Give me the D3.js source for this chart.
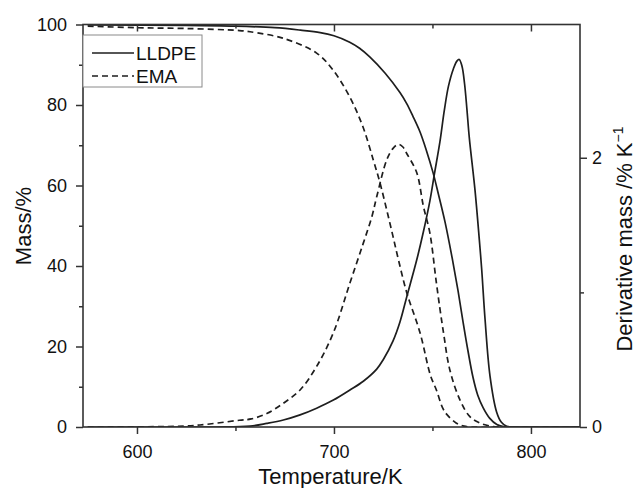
<!DOCTYPE html>
<html>
<head>
<meta charset="utf-8">
<script src="https://cdn.jsdelivr.net/npm/d3@7"></script>
<style>
  body { margin: 0; background: #fff; }
  svg { display: block; }
  text { font-family: "Liberation Sans", Arial, Helvetica, sans-serif; fill: #111; }
</style>
</head>
<body>
<svg id="chart" width="638" height="488"></svg>
<script>
// ---------- data ----------
const seriesNames = ["LLDPE", "EMA"];

// LLDPE mass curve (Temperature K, Mass %)
const lldpeMassT = [575, 625, 650, 670, 683, 693, 700, 708, 713, 718.3, 726, 733.5, 737, 740, 743.7, 747, 750.3, 753, 756.4, 760, 763, 765.5, 768, 770.6, 773, 775.7, 779, 782.7, 786, 789, 825];
const lldpeMass  = [99.9, 99.8, 99.6, 99.2, 98.6, 98.0, 97.2, 95.6, 94.1, 91.9, 87.9, 83.1, 80.3, 77.3, 73.3, 68.6, 63.2, 57.9, 50.9, 42, 33.8, 26.2, 19, 12.3, 7.9, 4.8, 2.2, 0.6, 0.1, 0, 0];

// LLDPE derivative curve (Temperature K, %/K)
const lldpeDerivT = [575, 640, 657.4, 665.9, 674.3, 682.8, 691.2, 699.7, 708.1, 714.9, 721.7, 725, 730, 733.5, 737, 742, 745.4, 748.7, 751, 753.8, 756, 758.1, 760.6, 762.5, 763.6, 765, 766.3, 767.5, 768.7, 771.6, 773.8, 775, 776.7, 779.2, 782.6, 785, 787.7, 792, 825];
const lldpeDeriv  = [0, 0, 0.007, 0.027, 0.052, 0.09, 0.14, 0.2, 0.275, 0.34, 0.43, 0.5, 0.64, 0.78, 0.97, 1.24, 1.45, 1.68, 1.88, 2.12, 2.35, 2.53, 2.66, 2.72, 2.73, 2.68, 2.55, 2.36, 2.15, 1.76, 1.39, 1.17, 0.8, 0.38, 0.11, 0.035, 0.005, 0, 0];

// EMA mass curve
const emaMassT = [575, 600, 625, 652, 657.4, 674, 691.2, 699.5, 708, 714.7, 720, 723.4, 726.8, 730, 733, 737, 743.7, 749, 752, 755.3, 757.5, 762, 766, 770, 825];
const emaMass  = [99.6, 99.2, 99.0, 98.5, 98.2, 96.6, 92.9, 88.7, 82, 74.6, 66.3, 60.6, 53.9, 47.3, 41, 33.3, 23.4, 12.8, 9.2, 4.6, 3.0, 1.0, 0.2, 0, 0];

// EMA derivative curve
const emaDerivT = [575, 620, 632, 652, 658, 665.9, 674.3, 682.8, 691.2, 699.7, 708.1, 714.9, 719.2, 721.7, 726.8, 730, 732.7, 735, 737, 742, 745.4, 748.7, 752, 755.5, 758.9, 764, 769, 774, 780, 785, 825];
const emaDeriv  = [0, 0.005, 0.015, 0.05, 0.06, 0.1, 0.176, 0.275, 0.45, 0.7, 1.07, 1.366, 1.56, 1.71, 1.985, 2.07, 2.1, 2.08, 2.03, 1.89, 1.64, 1.44, 1.07, 0.71, 0.42, 0.2, 0.077, 0.03, 0.005, 0, 0];

// axes / ticks
const xDomain = [572.6, 824.9];
const massDomain = [0, 100];
const derivDomain = [0, 2.99];
const xMajorTicks = [600, 700, 800];
const xMinorTicks = [650, 750];
const massMajorTicks = [0, 20, 40, 60, 80, 100];
const massMinorTicks = [10, 30, 50, 70, 90];
const derivMajorTicks = [0, 2];
const derivMinorTicks = [1];
const xTitle = "Temperature/K";
const massTitle = "Mass/%";
const derivTitle = "Derivative mass /% K";
const derivTitleSup = "\u22121";

// ---------- layout ----------
const W = 638, H = 488;
const m = { left: 83, right: 58, top: 24.5, bottom: 61 };
const iw = W - m.left - m.right, ih = H - m.top - m.bottom;
const axisColor = "#333";
const lineColor = "#1e1e1e";

const svg = d3.select("#chart");
const g = svg.append("g").attr("transform", `translate(${m.left},${m.top})`);

const x = d3.scaleLinear().domain(xDomain).range([0, iw]);
const yM = d3.scaleLinear().domain(massDomain).range([ih, 0]);
const yD = d3.scaleLinear().domain(derivDomain).range([ih, 0]);

const zip = (a, b) => a.map((t, i) => [t, b[i]]);
const curve = d3.curveCatmullRom.alpha(0.5);
const lineM = d3.line().x(d => x(d[0])).y(d => yM(d[1])).curve(curve);
const lineD = d3.line().x(d => x(d[0])).y(d => yD(d[1])).curve(curve);

g.append("clipPath").attr("id", "clip").append("rect").attr("width", iw).attr("height", ih);
const plot = g.append("g").attr("clip-path", "url(#clip)");

const curves = [
  { data: zip(emaMassT, emaMass), gen: lineM, dash: "6,4" },
  { data: zip(emaDerivT, emaDeriv), gen: lineD, dash: "6,4" },
  { data: zip(lldpeMassT, lldpeMass), gen: lineM, dash: null },
  { data: zip(lldpeDerivT, lldpeDeriv), gen: lineD, dash: null }
];
curves.forEach(c => {
  plot.append("path")
    .attr("d", c.gen(c.data))
    .attr("fill", "none")
    .attr("stroke", lineColor)
    .attr("stroke-width", 1.7)
    .attr("stroke-dasharray", c.dash);
});

// ---------- axes ----------
function styleAxis(sel) {
  sel.select(".domain").remove();
  sel.selectAll(".tick line").attr("stroke", axisColor).attr("stroke-width", 1.5);
  sel.selectAll(".tick text").attr("font-size", 18).attr("fill", "#111")
     .attr("font-family", '"Liberation Sans", Arial, sans-serif');
}
const noLabel = () => "";

// bottom
g.append("g").attr("transform", `translate(0,${ih})`)
  .call(d3.axisBottom(x).tickValues(xMajorTicks).tickSize(7).tickPadding(11).tickFormat(d3.format("d")))
  .call(styleAxis);
g.append("g").attr("transform", `translate(0,${ih})`)
  .call(d3.axisBottom(x).tickValues(xMinorTicks).tickSize(4).tickFormat(noLabel))
  .call(styleAxis);
// top (inward)
g.append("g")
  .call(d3.axisBottom(x).tickValues(xMajorTicks).tickSize(7).tickFormat(noLabel))
  .call(styleAxis);
g.append("g")
  .call(d3.axisBottom(x).tickValues(xMinorTicks).tickSize(4).tickFormat(noLabel))
  .call(styleAxis);
// left
g.append("g")
  .call(d3.axisLeft(yM).tickValues(massMajorTicks).tickSize(7).tickPadding(9).tickFormat(d3.format("d")))
  .call(styleAxis);
g.append("g")
  .call(d3.axisLeft(yM).tickValues(massMinorTicks).tickSize(4).tickFormat(noLabel))
  .call(styleAxis);
// right
g.append("g").attr("transform", `translate(${iw},0)`)
  .call(d3.axisRight(yD).tickValues(derivMajorTicks).tickSize(7).tickPadding(5).tickFormat(d3.format("d")))
  .call(styleAxis);
g.append("g").attr("transform", `translate(${iw},0)`)
  .call(d3.axisRight(yD).tickValues(derivMinorTicks).tickSize(4).tickFormat(noLabel))
  .call(styleAxis);

// frame
g.append("rect").attr("width", iw).attr("height", ih)
  .attr("fill", "none").attr("stroke", axisColor).attr("stroke-width", 1.6);

// ---------- legend ----------
const lg = svg.append("g");
lg.append("rect").attr("x", 83).attr("y", 35).attr("width", 119).attr("height", 52)
  .attr("fill", "#fff").attr("stroke", "#8a8a8a").attr("stroke-width", 1);
[{ name: seriesNames[0], dash: null, y: 53 }, { name: seriesNames[1], dash: "6,4", y: 76 }].forEach(it => {
  lg.append("line").attr("x1", 92).attr("x2", 134).attr("y1", it.y).attr("y2", it.y)
    .attr("stroke", lineColor).attr("stroke-width", 1.7).attr("stroke-dasharray", it.dash);
  lg.append("text").attr("x", 136).attr("y", it.y + 7).attr("font-size", 19).text(it.name);
});

// ---------- titles ----------
svg.append("text").attr("x", 330.5).attr("y", 484).attr("text-anchor", "middle")
  .attr("font-size", 22).text(xTitle);
svg.append("text").attr("transform", "translate(31,226) rotate(-90)").attr("text-anchor", "middle")
  .attr("font-size", 22).text(massTitle);
const rt = svg.append("text").attr("transform", "translate(632,239) rotate(-90)").attr("text-anchor", "middle")
  .attr("font-size", 22);
rt.append("tspan").text(derivTitle);
rt.append("tspan").attr("font-size", 14).attr("dy", -9).text(derivTitleSup);
</script>
</body>
</html>
